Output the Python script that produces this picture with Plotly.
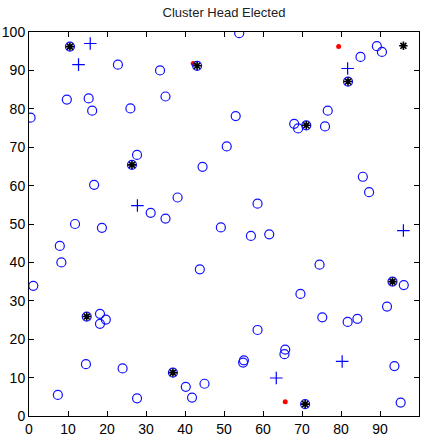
import plotly.graph_objects as go

# Sensor nodes (blue open circles)
node_x = [10.5, 22.8, 33.6, 43.1, 9.7, 15.3, 16.2, 0.4, 26.0, 35.0, 27.7, 26.4, 44.5, 16.7, 38.1,
          31.2, 35.0, 53.9, 89.2, 90.5, 85.0, 81.8, 76.6, 53.0, 68.0, 69.0, 71.1, 75.9, 50.7, 85.6,
          87.2, 58.6, 11.8, 18.7, 7.9, 8.3, 43.8, 1.1, 14.8, 18.2, 18.2, 19.7, 14.6, 24.0, 36.9,
          7.4, 27.7, 40.2, 41.8, 45.0, 49.2, 56.9, 61.6, 74.5, 93.2, 96.1, 69.6, 91.8, 75.2, 81.7,
          84.2, 58.6, 55.1, 54.9, 65.7, 65.5, 93.7, 70.8, 95.3]
node_y = [96.2, 91.5, 90.0, 91.2, 82.4, 82.7, 79.5, 77.7, 80.1, 83.2, 68.0, 65.4, 64.9, 60.2, 56.9,
          52.9, 51.4, 99.7, 96.3, 94.8, 93.5, 87.1, 79.5, 78.1, 76.1, 74.9, 75.7, 75.4, 70.2, 62.3,
          58.3, 55.3, 50.0, 49.0, 44.3, 40.0, 38.2, 33.9, 25.9, 26.6, 24.0, 25.1, 13.5, 12.4, 11.3,
          5.5, 4.6, 7.6, 4.8, 8.4, 49.1, 46.9, 47.3, 39.4, 35.0, 34.1, 31.8, 28.5, 25.7, 24.5,
          25.3, 22.4, 14.5, 13.9, 17.3, 16.1, 13.0, 3.1, 3.5]

# Plus markers
plus_x = [15.7, 12.7, 27.8, 81.7, 96.0, 80.3, 63.4]
plus_y = [97.0, 91.5, 54.8, 90.5, 48.3, 14.2, 9.9]

# Cluster heads (black asterisks)
ch_x = [10.5, 43.1, 26.4, 71.1, 81.8, 96.0, 14.8, 36.9, 93.2, 70.8]
ch_y = [96.2, 91.2, 65.4, 75.7, 87.1, 96.4, 25.9, 11.3, 35.0, 3.1]

# Red dots
red_x = [42.1, 79.4, 65.7]
red_y = [91.8, 96.2, 3.7]

x_ticks = list(range(0, 101, 10))
y_ticks = list(range(0, 101, 10))

fig = go.Figure()
fig.add_trace(go.Scatter(x=red_x, y=red_y, mode="markers",
                         marker=dict(symbol="circle", size=5, color="#ff0000")))
fig.add_trace(go.Scatter(x=node_x, y=node_y, mode="markers",
                         marker=dict(symbol="circle-open", size=9, color="#1010ff",
                                     line=dict(width=1.2, color="#1010ff"))))
fig.add_trace(go.Scatter(x=plus_x, y=plus_y, mode="markers",
                         marker=dict(symbol="cross-thin-open", size=9, color="#0000ff",
                                     line=dict(width=1.2, color="#0000ff"))))
fig.add_trace(go.Scatter(x=ch_x, y=ch_y, mode="markers",
                         marker=dict(symbol="asterisk-open", size=7, color="black",
                                     line=dict(width=1.6, color="black"))))

axis_common = dict(range=[0, 100], showgrid=False, zeroline=False, showline=True,
                   linecolor="black", linewidth=1, mirror="ticks", ticks="inside",
                   ticklen=5, tickcolor="black", automargin=False,
                   tickfont=dict(family="Liberation Sans Narrow, Arial Narrow, Liberation Sans",
                                 size=14, color="black"))
fig.update_xaxes(tickvals=x_ticks, **axis_common)
fig.update_yaxes(tickvals=y_ticks, **axis_common)

fig.update_layout(
    width=429, height=439,
    margin=dict(l=29, r=10, t=32, b=23),
    paper_bgcolor="white", plot_bgcolor="white",
    showlegend=False,
    title=dict(text="Cluster Head Elected", x=0.5, xref="paper", xanchor="center",
               y=1, yref="container", yanchor="top", pad=dict(t=8),
               font=dict(family="Liberation Sans Narrow, Arial Narrow, Liberation Sans",
                         size=13, color="#222222")),
)

# remove the default 8px page margin so the figure fills the 429x439 window
fig.write_html("out.html",
               config={"displayModeBar": False},
               post_script="document.body.style.margin='0';document.body.style.overflow='hidden';")
